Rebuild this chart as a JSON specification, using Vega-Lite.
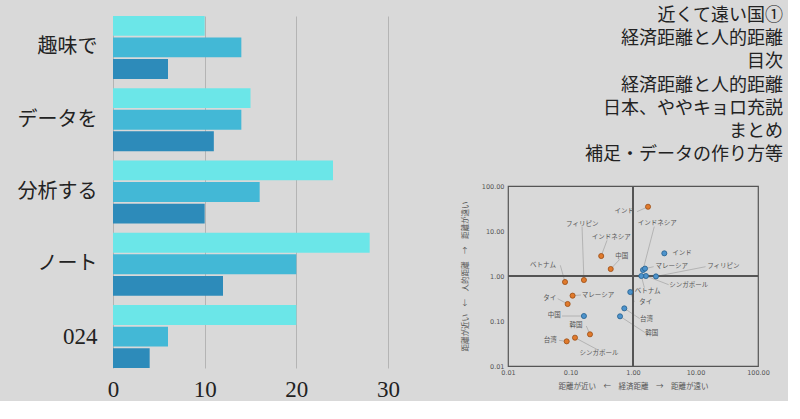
{
  "$schema": "https://vega.github.io/schema/vega-lite/v6.json",
  "background": "#d9d9d9",
  "padding": {"left": 17, "top": 7, "right": 5, "bottom": 0},
  "bounds": "flush",
  "spacing": 120,
  "config": {"view": {"stroke": null}},
  "hconcat": [
    {
      "width": 275,
      "height": 352,
      "data": {"values": [
        {"cat": "趣味で", "s": "a", "v": 10}, {"cat": "趣味で", "s": "b", "v": 14}, {"cat": "趣味で", "s": "c", "v": 6},
        {"cat": "データを", "s": "a", "v": 15}, {"cat": "データを", "s": "b", "v": 14}, {"cat": "データを", "s": "c", "v": 11},
        {"cat": "分析する", "s": "a", "v": 24}, {"cat": "分析する", "s": "b", "v": 16}, {"cat": "分析する", "s": "c", "v": 10},
        {"cat": "ノート", "s": "a", "v": 28}, {"cat": "ノート", "s": "b", "v": 20}, {"cat": "ノート", "s": "c", "v": 12},
        {"cat": "024", "s": "a", "v": 20}, {"cat": "024", "s": "b", "v": 6}, {"cat": "024", "s": "c", "v": 4}
      ]},
      "mark": {"type": "bar"},
      "encoding": {
        "y": {"field": "cat", "type": "nominal", "sort": ["趣味で", "データを", "分析する", "ノート", "024"],
              "scale": {"paddingInner": 0.13, "paddingOuter": 0},
              "axis": {"title": null, "ticks": false, "domain": false, "labelPadding": 16,
                       "labelFontSize": {"condition": {"test": "datum.value === '024'", "value": 23}, "value": 20},
                       "labelFont": "Liberation Serif, Noto Sans CJK JP", "labelColor": "#222"}},
        "x": {"field": "v", "type": "quantitative", "scale": {"domain": [0, 30], "nice": false},
              "axis": {"title": null, "values": [0, 10, 20, 30], "ticks": false, "domain": false, "grid": true,
                       "gridColor": "#b4b4b4", "gridWidth": 1, "labelPadding": 10, "labelFontSize": 23, "labelFlush": false,
                       "labelFont": "Liberation Serif", "labelColor": "#222"}},
        "yOffset": {"field": "s", "type": "nominal", "sort": ["a", "b", "c"], "scale": {"paddingInner": 0.08, "paddingOuter": 0}},
        "color": {"field": "s", "type": "nominal", "scale": {"domain": ["a", "b", "c"], "range": ["#6be6e8", "#43b8d6", "#2d8bba"]}, "legend": null}
      }
    },
    {
      "bounds": "flush",
      "spacing": 31,
      "vconcat": [
        {
          "width": 275,
          "height": 139,
          "data": {"values": [
            {"i": 0, "t": "近くて遠い国①"},
            {"i": 1, "t": "経済距離と人的距離"},
            {"i": 2, "t": "目次"},
            {"i": 3, "t": "経済距離と人的距離"},
            {"i": 4, "t": "日本、ややキョロ充説"},
            {"i": 5, "t": "まとめ"},
            {"i": 6, "t": "補足・データの作り方等"}
          ]},
          "mark": {"type": "text", "align": "right", "baseline": "middle", "fontSize": 18, "font": "Noto Sans CJK JP", "color": "#222"},
          "encoding": {
            "y": {"field": "i", "type": "ordinal", "axis": null, "scale": {"padding": 0}},
            "x": {"value": "width"},
            "text": {"field": "t"}
          }
        },
        {
          "width": 250,
          "height": 180,
          "view": {"stroke": "#555", "strokeWidth": 1.2},
          "data": {"values": [
            {"g": "A", "c": "インド", "x": 1.74, "y": 34.6, "lx": 0.726, "ly": 27.8, "ex": 1.16, "ey": 26.9},
            {"g": "A", "c": "インドネシア", "x": 0.31, "y": 2.78, "lx": 0.45, "ly": 7.36, "ex": 0.384, "ey": 6.21},
            {"g": "A", "c": "中国", "x": 0.44, "y": 1.43, "lx": 0.659, "ly": 2.83, "ex": 0.612, "ey": 2.34},
            {"g": "A", "c": "フィリピン", "x": 0.164, "y": 0.815, "lx": 0.1545, "ly": 14.5, "ex": 0.153, "ey": 12.5},
            {"g": "A", "c": "ベトナム", "x": 0.0817, "y": 0.736, "lx": 0.0363, "ly": 1.79, "ex": 0.0687, "ey": 1.73},
            {"g": "A", "c": "マレーシア", "x": 0.108, "y": 0.366, "lx": 0.275, "ly": 0.385, "ex": 0.147, "ey": 0.378},
            {"g": "A", "c": "タイ", "x": 0.09, "y": 0.239, "lx": 0.0464, "ly": 0.325, "ex": 0.0624, "ey": 0.313},
            {"g": "A", "c": "韓国", "x": 0.205, "y": 0.0506, "lx": 0.1225, "ly": 0.08, "ex": 0.179, "ey": 0.0774},
            {"g": "A", "c": "シンガポール", "x": 0.118, "y": 0.0426, "lx": 0.286, "ly": 0.0195, "ex": 0.265, "ey": 0.0234},
            {"g": "A", "c": "台湾", "x": 0.0869, "y": 0.0353, "lx": 0.0476, "ly": 0.0385, "ex": 0.0655, "ey": 0.0372},
            {"g": "B", "c": "インド", "x": 3.17, "y": 3.19, "lx": 6.08, "ly": 3.3, "ex": 3.5, "ey": 3.22},
            {"g": "B", "c": "インドネシア", "x": 1.445, "y": 1.36, "lx": 2.45, "ly": 14.8, "ex": 2.19, "ey": 12.5},
            {"g": "B", "c": "マレーシア", "x": 1.556, "y": 1.46, "lx": 4.16, "ly": 1.67, "ex": 2.14, "ey": 1.61},
            {"g": "B", "c": "フィリピン", "x": 2.33, "y": 0.98, "lx": 27.9, "ly": 1.64, "ex": 14.5, "ey": 1.61},
            {"g": "B", "c": "シンガポール", "x": 1.61, "y": 1.0, "lx": 7.78, "ly": 0.631, "ex": 3.72, "ey": 0.641},
            {"g": "B", "c": "ベトナム", "x": 1.36, "y": 1.0, "lx": 1.72, "ly": 0.472, "ex": 1.52, "ey": 0.551},
            {"g": "B", "c": "タイ", "x": 0.905, "y": 0.44, "lx": 1.6, "ly": 0.264, "ex": 1.05, "ey": 0.264},
            {"g": "B", "c": "台湾", "x": 0.726, "y": 0.191, "lx": 1.65, "ly": 0.111, "ex": 1.28, "ey": 0.113},
            {"g": "B", "c": "韓国", "x": 0.62, "y": 0.127, "lx": 1.99, "ly": 0.0551, "ex": 1.56, "ey": 0.0551},
            {"g": "B", "c": "中国", "x": 0.164, "y": 0.129, "lx": 0.0551, "ly": 0.1337, "ex": 0.0731, "ey": 0.129}
          ]},
          "layer": [
            {
              "mark": {"type": "rule", "color": "#aaaaaa", "strokeWidth": 0.8},
              "encoding": {
                "x": {"field": "x", "type": "quantitative", "scale": {"type": "log", "domain": [0.01, 100], "nice": false},
                      "axis": {"title": "距離が近い　←　経済距離　→　距離が遠い", "values": [0.01, 0.1, 1, 10, 100], "format": ".2f",
                               "ticks": false, "domain": false, "grid": false, "labelFontSize": 6.5, "labelColor": "#555", "labelFlush": false,
                               "labelFont": "DejaVu Sans", "labelPadding": 3, "titleFont": "Noto Sans CJK JP", "titleFontSize": 7.5,
                               "titleFontWeight": "normal", "titleColor": "#555", "titlePadding": 7}},
                "y": {"field": "y", "type": "quantitative", "scale": {"type": "log", "domain": [0.01, 100], "nice": false},
                      "axis": {"title": "距離が近い　←　人的距離　→　距離が遠い", "values": [0.01, 0.1, 1, 10, 100], "format": ".2f",
                               "ticks": false, "domain": false, "grid": false, "labelFontSize": 6.5, "labelColor": "#555", "labelFlush": false,
                               "labelFont": "DejaVu Sans", "labelPadding": 4, "titleFont": "Noto Sans CJK JP", "titleFontSize": 7.5,
                               "titleFontWeight": "normal", "titleColor": "#555", "titlePadding": 12}},
                "x2": {"field": "ex"},
                "y2": {"field": "ey"}
              }
            },
            {
              "mark": {"type": "rule", "color": "#555", "strokeWidth": 1.2},
              "encoding": {"x": {"datum": 1}}
            },
            {
              "mark": {"type": "rule", "color": "#555", "strokeWidth": 1.2},
              "encoding": {"y": {"datum": 1}}
            },
            {
              "mark": {"type": "point", "filled": true, "shape": "circle", "size": 26, "opacity": 1, "strokeWidth": 0.8},
              "encoding": {
                "x": {"field": "x", "type": "quantitative"},
                "y": {"field": "y", "type": "quantitative"},
                "fill": {"field": "g", "type": "nominal", "scale": {"domain": ["A", "B"], "range": ["#e07a2c", "#4d93cc"]}, "legend": null},
                "stroke": {"field": "g", "type": "nominal", "scale": {"domain": ["A", "B"], "range": ["#9a4c14", "#255f8e"]}, "legend": null}
              }
            },
            {
              "mark": {"type": "text", "fontSize": 6.5, "font": "Noto Sans CJK JP", "color": "#555", "align": "center", "baseline": "middle"},
              "encoding": {
                "x": {"field": "lx", "type": "quantitative"},
                "y": {"field": "ly", "type": "quantitative"},
                "text": {"field": "c"}
              }
            }
          ]
        }
      ]
    }
  ]
}
